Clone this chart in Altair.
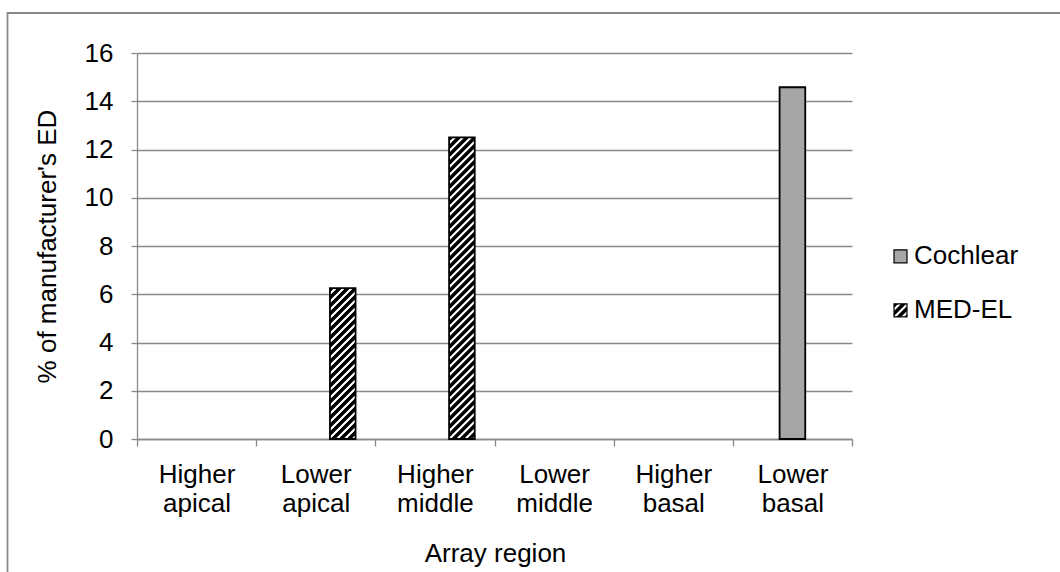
import math
import altair as alt
import pandas as pd

# ---- data -------------------------------------------------------------
regions = ["Higher apical", "Lower apical", "Higher middle",
           "Lower middle", "Higher basal", "Lower basal"]
series_names = ["Cochlear", "MED-EL"]
cochlear = [0, 0, 0, 0, 0, 14.58]
med_el = [0, 6.25, 12.5, 0, 0, 0]
y_ticks = [0, 2, 4, 6, 8, 10, 12, 14, 16]

# ---- layout -----------------------------------------------------------
FONT = "Liberation Sans"
FS = 26
PLOT_W, PLOT_H = 715, 386
PAD = {"left": 137, "top": 53, "right": 208, "bottom": 133}
Y_MAX = 16
GREY = "#a6a6a6"
LINE = "#898989"

# three bar slots per category; the first one stays empty
offset_slots = ["", "Cochlear", "MED-EL"]
SLOT_PAD_IN, SLOT_PAD_OUT = 0.05, 0.732

rows = []
for name, vals in zip(series_names, [cochlear, med_el]):
    for r, v in zip(regions, vals):
        rows.append({"region": r, "series": name, "value": v})
df = pd.DataFrame(rows)


def hatch(w, h, period=8.0):
    """Diagonal '/' stripes as a linear gradient over a w x h box."""
    k = (w + h) / (w * w + h * h)
    n = (w + h) / period
    pattern = [(0.0, "#000000"), (0.46, "#000000"), (0.6, "#ffffff"),
               (0.84, "#ffffff"), (0.98, "#000000")]
    stops = []
    for i in range(int(math.ceil(n)) + 1):
        for f, c in pattern:
            off = (i + f) / n
            if off <= 1.0:
                stops.append({"offset": round(off, 5), "color": c})
    return {"gradient": "linear", "x1": 0, "y1": 0,
            "x2": round(k * w, 6), "y2": round(k * h, 6), "stops": stops}


band = PLOT_W / len(regions)
slot_step = band / (len(offset_slots) - SLOT_PAD_IN + 2 * SLOT_PAD_OUT)
bar_w = slot_step * (1 - SLOT_PAD_IN)

# striped fill for every MED-EL bar, sized to that bar
fill_rule = None
for r, v in zip(regions, med_el):
    if v <= 0:
        continue
    cond = (alt.datum.series == "MED-EL") & (alt.datum.region == r)
    grad = alt.value(hatch(bar_w, v / Y_MAX * PLOT_H))
    fill_rule = alt.when(cond).then(grad) if fill_rule is None else fill_rule.when(cond).then(grad)
bar_fill = fill_rule.otherwise(alt.value(GREY))

bars = alt.Chart(df).transform_filter("datum.value > 0").mark_bar(
    stroke="black", strokeWidth=1.8
).encode(
    x=alt.X("region:N", sort=regions,
            scale=alt.Scale(domain=regions, paddingInner=0, paddingOuter=0),
            axis=alt.Axis(title="Array region", labelAngle=0,
                          labelExpr="split(datum.label, ' ')",
                          labelBaseline="alphabetic", labelLineHeight=29,
                          labelPadding=36, tickSize=7, tickBand="extent",
                          titleX=PLOT_W / 2 + 0.5, titleY=114,
                          titleBaseline="middle")),
    xOffset=alt.XOffset("series:N",
                        scale=alt.Scale(domain=offset_slots,
                                        paddingInner=SLOT_PAD_IN,
                                        paddingOuter=SLOT_PAD_OUT)),
    y=alt.Y("value:Q", scale=alt.Scale(domain=[0, Y_MAX], nice=False),
            axis=alt.Axis(title="% of manufacturer's ED", values=y_ticks,
                          grid=True, tickSize=6, labelPadding=18,
                          titleX=-90, titleBaseline="middle")),
    fill=bar_fill,
)

# outer chart frame
frame = alt.Chart(pd.DataFrame({"k": [0]})).mark_rect(
    filled=False, color=LINE, strokeWidth=1.8
).encode(
    x=alt.value(-129.5), x2=alt.value(1000),
    y=alt.value(-40), y2=alt.value(700),
)

# legend: swatch + label per series
SW = 13
legend_y = alt.Y("series:N", axis=None,
                 scale=alt.Scale(domain=series_names, range=[203.3, 257.3],
                                 padding=0))
legend_data = pd.DataFrame({"series": series_names})
swatch_fill = alt.when(alt.datum.series == "MED-EL").then(
    alt.value(hatch(SW, SW, period=8.0))).otherwise(alt.value(GREY))
swatches = alt.Chart(legend_data).mark_square(
    size=SW * SW, stroke="black", strokeWidth=1.2, opacity=1
).encode(x=alt.value(763.5), y=legend_y, fill=swatch_fill)
labels = alt.Chart(legend_data).mark_text(
    align="left", baseline="middle", font=FONT, fontSize=FS, color="black"
).encode(x=alt.value(777), y=legend_y, text="series:N")

chart = alt.layer(frame, bars, swatches, labels).resolve_scale(
    y="independent"
).properties(
    width=PLOT_W, height=PLOT_H,
    autosize=alt.AutoSizeParams(type="none"),
    padding=PAD, background="white",
).configure_view(stroke=None).configure_axis(
    labelFont=FONT, labelFontSize=FS, labelColor="black",
    titleFont=FONT, titleFontSize=FS, titleColor="black",
    titleFontWeight="normal",
    domainColor=LINE, domainWidth=1.3, tickColor=LINE, tickWidth=1.3,
    gridColor=LINE, gridWidth=1.3,
)

chart.save("out.html", embed_options={"renderer": "svg", "actions": False})
